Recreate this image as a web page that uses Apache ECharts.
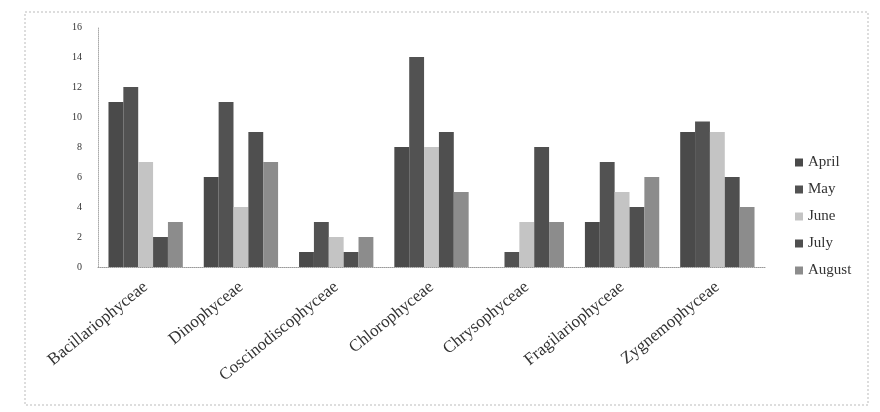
<!DOCTYPE html>
<html>
<head>
<meta charset="utf-8">
<script src="https://cdn.jsdelivr.net/npm/echarts@6/dist/echarts.min.js"></script>
<style>html,body{margin:0;padding:0;background:#fff;}#c{width:880px;height:412px;}</style>
</head>
<body>
<div id="c"></div>
<script>
const categories = ['Bacillariophyceae','Dinophyceae','Coscinodiscophyceae','Chlorophyceae','Chrysophyceae','Fragilariophyceae','Zygnemophyceae'];
const seriesNames = ['April','May','June','July','August'];
const april  = [11, 6, 1, 8, 0, 3, 9];
const may    = [12, 11, 3, 14, 1, 7, 9.7];
const june   = [7, 4, 2, 8, 3, 5, 9];
const july   = [2, 9, 1, 9, 8, 4, 6];
const august = [3, 7, 2, 5, 3, 6, 4];
const yTicks = [0, 2, 4, 6, 8, 10, 12, 14, 16];

const values = [april, may, june, july, august];
const colors = ['#4a4a4a', '#525252', '#c4c4c4', '#4f4f4f', '#8c8c8c'];
const font = '"Liberation Serif", "DejaVu Serif", serif';

const chart = echarts.init(document.getElementById('c'));
chart.setOption({
  animation: false,
  backgroundColor: '#fff',
  grid: { left: 98, right: 115, top: 27, bottom: 145 },
  legend: {
    orient: 'vertical', left: 790, top: 150,
    itemWidth: 8, itemHeight: 8, itemGap: 12,
    icon: 'rect',
    textStyle: { fontFamily: font, fontSize: 15, color: '#333' },
    data: seriesNames
  },
  xAxis: {
    type: 'category', data: categories,
    axisLine: { lineStyle: { color: '#999', type: 'dotted', width: 1 } },
    axisTick: { show: false },
    axisLabel: { rotate: 39, interval: 0, margin: 18, fontFamily: font, fontSize: 17, color: '#333' }
  },
  yAxis: {
    type: 'value', min: yTicks[0], max: yTicks[yTicks.length - 1], interval: 2,
    axisLine: { show: true, lineStyle: { color: '#aaa', type: 'dotted', width: 1 } },
    axisTick: { show: false },
    splitLine: { show: false },
    axisLabel: { margin: 16, fontFamily: font, fontSize: 10, color: '#333' }
  },
  series: seriesNames.map((n, i) => ({
    name: n, type: 'bar', data: values[i],
    barGap: '0%', barCategoryGap: '22%',
    itemStyle: { color: colors[i] }
  })),
  graphic: [{
    type: 'rect', shape: { x: 25, y: 12, width: 843, height: 393 },
    style: { fill: 'none', stroke: '#bbb', lineWidth: 1, lineDash: [2, 2] }, silent: true
  }]
});
</script>
</body>
</html>
